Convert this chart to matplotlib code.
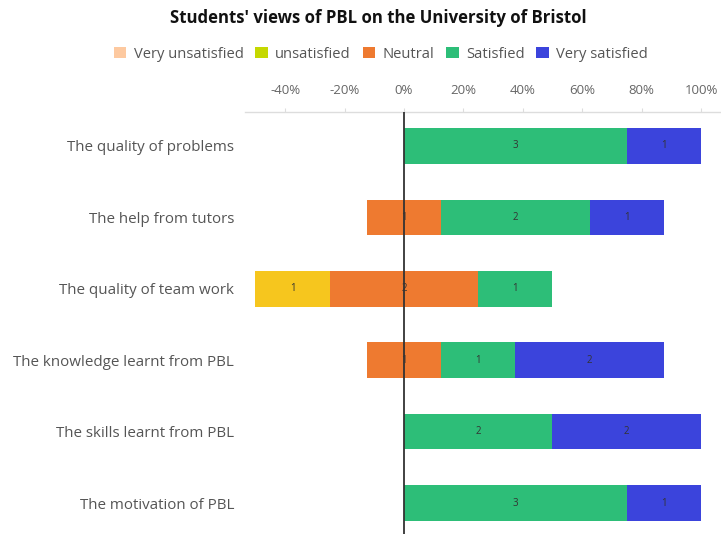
import matplotlib
matplotlib.use("Agg")
import matplotlib.pyplot as plt
from matplotlib.patches import Patch
import numpy as np

plt.rcParams['font.family'] = ['Open Sans', 'DejaVu Sans']

categories = ["The quality of problems", "The help from tutors", "The quality of team work",
              "The knowledge learnt from PBL", "The skills learnt from PBL", "The motivation of PBL"]
series_names = ["Very unsatisfied", "unsatisfied", "Neutral", "Satisfied", "Very satisfied"]
very_unsat = [0, 0, 0, 0, 0, 0]
unsat = [0, 0, 1, 0, 0, 0]
neutral = [0, 1, 2, 1, 0, 0]
sat = [3, 2, 1, 1, 2, 3]
very_sat = [1, 1, 0, 2, 2, 1]
tick_vals = [-40, -20, 0, 20, 40, 60, 80, 100]
tick_labels = ["-40%", "-20%", "0%", "20%", "40%", "60%", "80%", "100%"]

bar_colors = ["#FDC9A0", "#F6C61E", "#EE7A30", "#2DBE78", "#3B44DC"]
legend_colors = ["#FDC9A0", "#C5D800", "#EE7A30", "#2DBE78", "#3B44DC"]

fig = plt.figure(figsize=(7.21, 5.34), dpi=100)
W, H = 721, 534
ax = fig.add_axes([245 / W, 0, (720 - 245) / W, (534 - 112) / H])

vu = np.array(very_unsat, float)
u = np.array(unsat, float)
n = np.array(neutral, float)
s = np.array(sat, float)
vs = np.array(very_sat, float)
tot = vu + u + n + s + vs
pvu, pu, pn, ps, pvs = [a / tot * 100 for a in (vu, u, n, s, vs)]

y = np.arange(len(categories))
segs = [
    (pvu, -pn / 2 - pu - pvu, vu),
    (pu, -pn / 2 - pu, u),
    (pn, -pn / 2, n),
    (ps, pn / 2, s),
    (pvs, pn / 2 + ps, vs),
]
bh = 0.5
for (width, left, counts), col in zip(segs, bar_colors):
    ax.barh(y, width, left=left, height=bh, color=col, edgecolor='none', zorder=2)
    for yi, w, l, c in zip(y, width, left, counts):
        if c > 0:
            ax.text(l + w / 2, yi, f"{int(c)}", ha='center', va='center',
                    fontsize=7, color='#333333', zorder=4)

ax.axvline(0, color='#333333', linewidth=1.3, zorder=3)

ax.set_xlim(-53.5, 106.4)
ax.set_ylim(5.434, -0.476)
ax.set_yticks(y)
ax.set_yticklabels(categories, fontsize=10.9, color='#555555')
ax.xaxis.tick_top()
ax.set_xticks(tick_vals)
ax.set_xticklabels(tick_labels, fontsize=9.5, color='#666666')
ax.tick_params(axis='x', length=3, color='#dddddd', pad=8)
ax.tick_params(axis='y', length=0, pad=8)
for sp in ['left', 'right', 'bottom']:
    ax.spines[sp].set_visible(False)
ax.spines['top'].set_color('#dddddd')
ax.spines['top'].set_linewidth(1)

fig.text(378 / W, 1 - 18 / H, "Students' views of PBL on the University of Bristol",
         ha='center', va='center', fontsize=12.1, fontweight='bold', color='#111111')

handles = [Patch(facecolor=c, edgecolor='none') for c in legend_colors]
leg = fig.legend(handles, series_names, loc='center', bbox_to_anchor=(381 / W, 1 - 54 / H),
                 ncol=5, frameon=False, fontsize=10.6, handlelength=0.85, handleheight=0.85,
                 handletextpad=0.5, columnspacing=0.8, labelcolor='#555555')

fig.savefig("out.png", dpi=100)
